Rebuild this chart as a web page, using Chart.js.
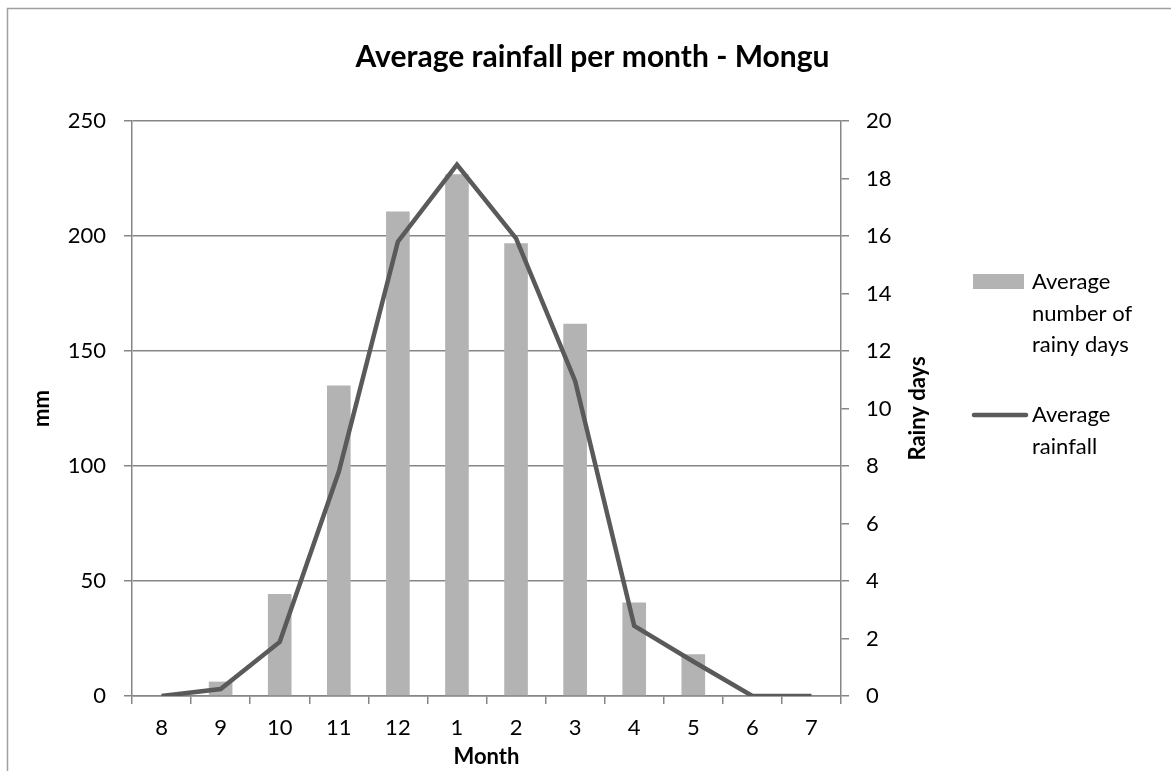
<!DOCTYPE html>
<html>
<head>
<meta charset="utf-8">
<title>Average rainfall per month - Mongu</title>
<script src="https://cdn.jsdelivr.net/npm/chart.js@4.4.1/dist/chart.umd.min.js"></script>
<style>
    html, body { margin: 0; padding: 0; background: #ffffff; }
    #wrap { width: 1171px; height: 771px; position: relative; }
</style>
</head>
<body>
<div id="wrap"><canvas id="rainChart" width="1171" height="771"></canvas></div>
<script>
// Data
const months = ['8', '9', '10', '11', '12', '1', '2', '3', '4', '5', '6', '7'];
const rainyDays = [0, 0.5, 3.55, 10.8, 16.85, 18.15, 15.75, 12.95, 3.25, 1.45, 0, 0];
const rainfallMm = [0, 3, 23.5, 97.5, 197.5, 231, 199, 137, 30.5, 15, 0, 0];
const mmTicks = [0, 50, 100, 150, 200, 250];
const dayTicks = [0, 2, 4, 6, 8, 10, 12, 14, 16, 18, 20];
const legendLines = [['Average', 'number of', 'rainy days'], ['Average', 'rainfall']];

const FONT = 'Lato, "Open Sans", sans-serif';
const gridColor = '#868686';

// Frame, right axis title and the wrapped legend
const extras = {
    id: 'extras',
    beforeDraw(chart) {
        const ctx = chart.ctx;
        ctx.save();
        ctx.strokeStyle = '#a0a0a0';
        ctx.lineWidth = 1.5;
        ctx.beginPath();
        ctx.moveTo(7.5, chart.height);
        ctx.lineTo(7.5, 8.5);
        ctx.lineTo(chart.width, 8.5);
        ctx.stroke();
        ctx.restore();
    },
    afterDraw(chart) {
        const ctx = chart.ctx;
        const area = chart.chartArea;
        const [barSet, lineSet] = chart.data.datasets;
        ctx.save();

        // "Rainy days", reads bottom to top
        ctx.translate(918, (area.top + area.bottom) / 2);
        ctx.rotate(-Math.PI / 2);
        ctx.font = 'bold 22px ' + FONT;
        ctx.fillStyle = '#000';
        ctx.textAlign = 'center';
        ctx.textBaseline = 'middle';
        ctx.fillText('Rainy days', 0, 0);
        ctx.setTransform(1, 0, 0, 1, 0, 0);

        // legend
        ctx.font = '22px ' + FONT;
        ctx.textAlign = 'left';
        ctx.fillStyle = barSet.backgroundColor;
        ctx.fillRect(973, 274, 51, 15);
        ctx.fillStyle = '#000';
        legendLines[0].forEach((t, i) => ctx.fillText(t, 1032, 282 + i * 31.5));

        ctx.strokeStyle = lineSet.borderColor;
        ctx.lineWidth = lineSet.borderWidth;
        ctx.lineCap = 'round';
        ctx.beginPath();
        ctx.moveTo(974, 415);
        ctx.lineTo(1026, 415);
        ctx.stroke();
        legendLines[1].forEach((t, i) => ctx.fillText(t, 1032, 415 + i * 31.5));

        ctx.restore();
    }
};

new Chart(document.getElementById('rainChart'), {
    type: 'bar',
    data: {
        labels: months,
        datasets: [{
            type: 'bar',
            label: 'Average number of rainy days',
            data: rainyDays,
            yAxisID: 'yDays',
            backgroundColor: '#b3b3b3',
            barPercentage: 0.4,
            categoryPercentage: 1,
            order: 2
        }, {
            type: 'line',
            label: 'Average rainfall',
            data: rainfallMm,
            yAxisID: 'yMm',
            borderColor: '#5a5a5a',
            borderWidth: 4.5,
            pointRadius: 0,
            tension: 0,
            fill: false,
            order: 1
        }]
    },
    options: {
        responsive: false,
        animation: false,
        devicePixelRatio: 1,
        layout: { padding: { left: 14, top: 0, right: 0, bottom: 0 } },
        plugins: {
            legend: { display: false },
            tooltip: { enabled: false },
            title: {
                display: true,
                text: 'Average rainfall per month - Mongu',
                color: '#000',
                font: { family: FONT, size: 30, weight: 'bold', lineHeight: 1.2 },
                padding: { top: 39, bottom: 46 }
            }
        },
        scales: {
            x: {
                offset: true,
                grid: {
                    offset: true,
                    drawOnChartArea: false,
                    drawTicks: true,
                    tickLength: 8,
                    color: gridColor,
                    lineWidth: 1.5
                },
                border: { display: true, color: gridColor, width: 1.5 },
                ticks: { color: '#000', font: { family: FONT, size: 22 }, padding: 11, maxRotation: 0 },
                title: {
                    display: true,
                    text: 'Month',
                    color: '#000',
                    font: { family: FONT, size: 22, weight: 'bold', lineHeight: 1.2 },
                    padding: { top: 0, bottom: 1 }
                },
                afterFit(scale) { scale.height = 75; }
            },
            yMm: {
                position: 'left',
                min: 0,
                max: 250,
                afterBuildTicks(scale) { scale.ticks = mmTicks.map(v => ({ value: v })); },
                grid: { color: gridColor, lineWidth: 1.5, tickLength: 8 },
                border: { display: true, color: gridColor, width: 1.5 },
                ticks: { color: '#000', font: { family: FONT, size: 22 }, padding: 18 },
                title: {
                    display: true,
                    text: 'mm',
                    color: '#000',
                    font: { family: FONT, size: 22, weight: 'bold', lineHeight: 1.2 },
                    padding: { top: 15, bottom: 0 }
                },
                afterFit(scale) { scale.width = 118; }
            },
            yDays: {
                position: 'right',
                min: 0,
                max: 20,
                afterBuildTicks(scale) { scale.ticks = dayTicks.map(v => ({ value: v })); },
                grid: { drawOnChartArea: false, color: gridColor, lineWidth: 1.5, tickLength: 8 },
                border: { display: true, color: gridColor, width: 1.5 },
                ticks: { color: '#000', font: { family: FONT, size: 22 }, padding: 17 },
                afterFit(scale) { scale.width = 330; }
            }
        }
    },
    plugins: [extras]
});
</script>
</body>
</html>
